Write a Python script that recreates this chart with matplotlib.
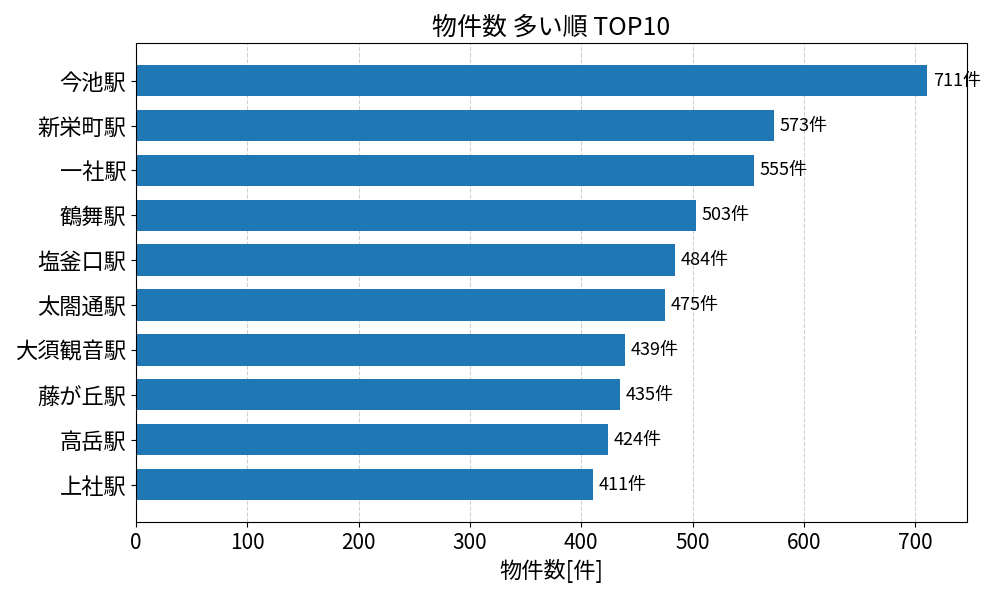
import matplotlib
matplotlib.use("Agg")
import matplotlib.pyplot as plt

plt.rcParams["font.family"] = ["Noto Sans CJK JP", "DejaVu Sans"]

stations = ["今池駅", "新栄町駅", "一社駅", "鶴舞駅", "塩釜口駅",
            "太閤通駅", "大須観音駅", "藤が丘駅", "高岳駅", "上社駅"]
counts = [711, 573, 555, 503, 484, 475, 439, 435, 424, 411]

fig, ax = plt.subplots(figsize=(10, 6), dpi=100)
ax.barh(stations[::-1], counts[::-1], height=0.7, color="#1f77b4")

for i, v in enumerate(counts[::-1]):
    ax.text(v + 5, i, f"{v}件", va="center", fontsize=13)

ax.set_xlim(0, max(counts) * 1.05)
ax.set_title("物件数 多い順 TOP10", fontsize=18)
ax.set_xlabel("物件数[件]", fontsize=16)
ax.tick_params(axis="y", labelsize=16)
ax.tick_params(axis="x", labelsize=15)
ax.grid(axis="x", linestyle="--", alpha=0.6)
ax.set_axisbelow(True)

plt.subplots_adjust(left=0.136, right=0.967, top=0.928, bottom=0.13)
plt.savefig("out.png")
plt.close()
